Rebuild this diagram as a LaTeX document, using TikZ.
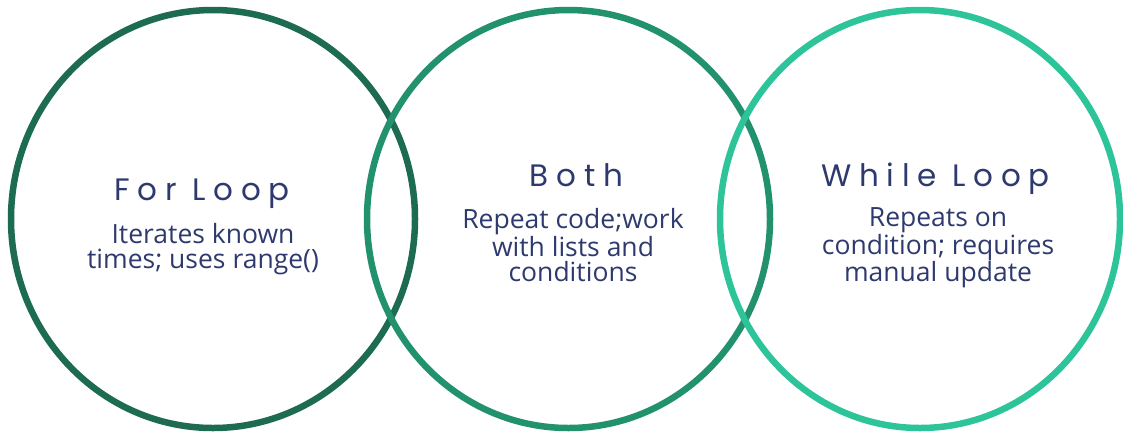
\documentclass[tikz,border=0pt]{standalone}
\usepackage{fontspec}
\setmainfont{Open Sans}
\newfontfamily\titlefont[LetterSpace=25]{Poppins}
\definecolor{ringA}{HTML}{1D6B50}
\definecolor{ringB}{HTML}{22926E}
\definecolor{ringC}{HTML}{2EC49A}
\definecolor{navy}{HTML}{2E3A6E}
\begin{document}
\begin{tikzpicture}[x=1pt,y=-1pt,
  ring/.style={line width=6.5pt},
  title/.style={text=navy,font=\titlefont\fontsize{31}{31}\selectfont,anchor=base,inner sep=0pt},
  body/.style={text=navy,font=\fontsize{26.5}{25}\selectfont,align=center,anchor=north,inner sep=0pt}]
  \useasboundingbox (0,0) rectangle (1123,432);
  % three overlapping rings
  \draw[ring,ringA] (213,219) ellipse [x radius=202pt,y radius=209pt];
  \draw[ring,ringB] (568.5,219) ellipse [x radius=201.5pt,y radius=209pt];
  \draw[ring,ringC] (920,219) ellipse [x radius=200pt,y radius=209pt];
  % headings
  \node[title] (tfor) at (202,200) {For Loop};
  \node[title] (tboth) at (576.5,186) {Both};
  \node[title] (twhile) at (935.5,186) {While Loop};
  % descriptions
  \node[body] (bfor) at (203,223.5) {Iterates known\\times; uses range()};
  \node[body] (bboth) at (573,208.5) {Repeat code;work\\with lists and\\conditions};
  \node[body] (bwhile) at (938,207.5) {Repeats on\\condition; requires\\manual update};
\end{tikzpicture}
\end{document}
